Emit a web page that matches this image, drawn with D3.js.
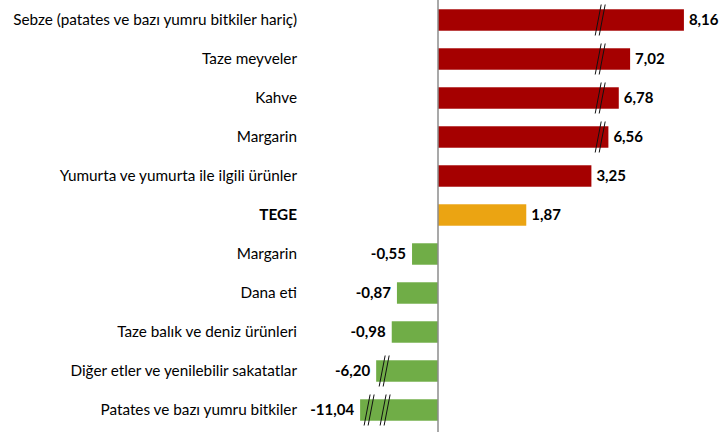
<!DOCTYPE html>
<html><head><meta charset="utf-8">
<script src="https://cdn.jsdelivr.net/npm/d3@7"></script>
<style>body{margin:0;background:#fff}svg{display:block}</style>
</head><body>
<svg id="c" width="725" height="432"></svg>
<script>
const categories = ["Sebze (patates ve bazı yumru bitkiler hariç)","Taze meyveler","Kahve","Margarin","Yumurta ve yumurta ile ilgili ürünler","TEGE","Margarin","Dana eti","Taze balık ve deniz ürünleri","Diğer etler ve yenilebilir sakatatlar","Patates ve bazı yumru bitkiler"];
const values = [8.16,7.02,6.78,6.56,3.25,1.87,-0.55,-0.87,-0.98,-6.20,-11.04];
const groups = ["up","up","up","up","up","total","down","down","down","down","down"];
// number of axis-break marks drawn on each bar
const breaks = [1,1,1,1,0,0,0,0,0,1,2];
const colors = {up:"#A50000", total:"#EBA412", down:"#70AD47"};

const W=725,H=432, x0=438, u=47.2;
const svg=d3.select("#c");
// broken value axis: compressed segments beyond the breaks
const x=d3.scaleLinear()
  .domain([-11.04,-6.2,-1.1,0,3.5,6.45,9])
  .range([-1.65,-1.31,-1.1,0,3.5,3.5,6.05].map(v=>x0+v*u));
const y=d3.scaleBand().domain(d3.range(categories.length)).range([0.5,429.5]).paddingInner(0.45).paddingOuter(0.225);
const bh=y.bandwidth();
const fmt=v=>d3.format(".2f")(v).replace(".",",").replace("\u2212","-");

const g=svg.append("g");
g.selectAll("rect").data(values).join("rect")
  .attr("x",d=>Math.min(x(d),x(0))).attr("width",d=>Math.abs(x(d)-x(0)))
  .attr("y",(d,i)=>y(i)).attr("height",bh)
  .attr("fill",(d,i)=>colors[groups[i]]);

// break marks
values.forEach((v,i)=>{
  const n=breaks[i]; if(!n) return;
  const cy=y(i)+bh/2;
  let xs;
  if(v>0) xs=[x(3.5)-3];
  else xs = n===1 ? [x(-6.2)+8] : [x(-11.04)+9, x(-11.04)+25];
  xs.forEach(cx=>{
    [-2,2].forEach(o=>{
      svg.append("line").attr("x1",cx+o-3).attr("y1",cy+15.5).attr("x2",cx+o+3).attr("y2",cy-15.5)
        .attr("stroke","#111").attr("stroke-width",1);
    });
  });
});

// axis line
svg.append("line").attr("x1",x(0)).attr("x2",x(0)).attr("y1",0).attr("y2",H).attr("stroke","#8c8c8c").attr("stroke-width",1.5);

// category labels
svg.selectAll("text.cat").data(categories).join("text").attr("class","cat")
  .attr("x",297).attr("y",(d,i)=>y(i)+bh/2).attr("dy","0.35em").attr("text-anchor","end")
  .attr("font-family","Lato, 'Open Sans', sans-serif").attr("font-size",15.3)
  .attr("font-weight",(d,i)=>groups[i]==="total"?"bold":"normal").attr("fill","#000")
  .text(d=>d);

// value labels
svg.selectAll("text.val").data(values).join("text").attr("class","val")
  .attr("x",d=>d>=0?x(d)+5:x(d)-6).attr("y",(d,i)=>y(i)+bh/2).attr("dy","0.35em")
  .attr("text-anchor",d=>d>=0?"start":"end")
  .attr("font-family","Lato, 'Open Sans', sans-serif").attr("font-size",15).attr("font-weight","bold").attr("fill","#000")
  .text(fmt);
</script>
</body></html>
